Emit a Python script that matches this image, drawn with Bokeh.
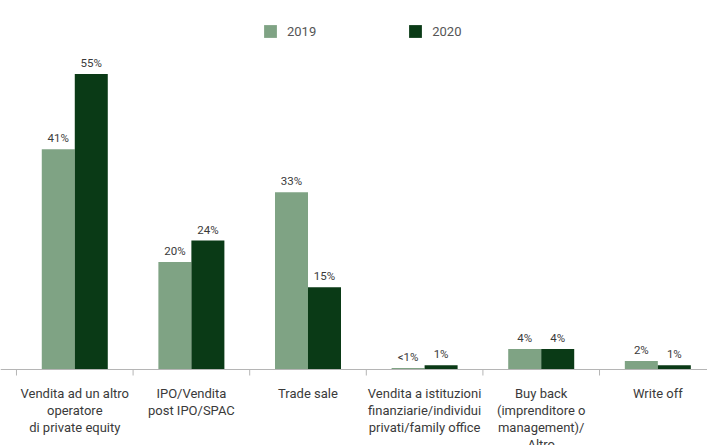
from bokeh.plotting import figure
from bokeh.models import ColumnDataSource, Range1d, Legend, LegendItem, LabelSet, Span
from bokeh.core.properties import value
from bokeh.embed import file_html
from bokeh.resources import INLINE

categories = [
    "Vendita ad un altro\noperatore\ndi private equity",
    "IPO/Vendita\npost IPO/SPAC",
    "Trade sale",
    "Vendita a istituzioni\nfinanziarie/individui\nprivati/family office",
    "Buy back\n(imprenditore o\nmanagement)/\nAltro",
    "Write off",
]
values_2019 = [41, 20, 33, 0.3, 3.8, 1.6]
values_2020 = [55, 24, 15.3, 0.8, 3.8, 0.8]
labels_2019 = ["41%", "20%", "33%", "<1%", "4%", "2%"]
labels_2020 = ["55%", "24%", "15%", "1%", "4%", "1%"]

C2019 = "#7fa384"
C2020 = "#0a3a16"
AXIS = "#b5b5b5"
FONT = "Roboto"

n = len(categories)
centers = [i + 0.5 for i in range(n)]
bounds = list(range(n + 1))
bw = 0.283
px = 5.371            # pixels per percentage point
tick_len = 6 / px     # tick length expressed in data units
line_px = 17          # line spacing of the category labels

src19 = ColumnDataSource(dict(x=[c - bw / 2 for c in centers], top=values_2019, lab=labels_2019))
src20 = ColumnDataSource(dict(x=[c + bw / 2 for c in centers], top=values_2020, lab=labels_2020))

cx, cy, ct = [], [], []
for c, cat in zip(centers, categories):
    for k, line in enumerate(cat.split("\n")):
        cx.append(c)
        cy.append(-k * line_px / px)
        ct.append(line)
srccat = ColumnDataSource(dict(x=cx, y=cy, lab=ct))
srctick = ColumnDataSource(dict(x=bounds, y0=[0] * len(bounds), y1=[-tick_len] * len(bounds)))

p = figure(width=707, height=445, output_backend="svg", toolbar_location=None,
           x_range=Range1d(-0.137, 5.926), y_range=Range1d(-76 / px, 369 / px),
           min_border_left=0, min_border_right=0, min_border_top=0, min_border_bottom=0)
p.outline_line_color = None
p.xgrid.visible = False
p.ygrid.visible = False
p.xaxis.visible = False
p.yaxis.visible = False
p.background_fill_color = "white"
p.border_fill_color = "white"

r19 = p.vbar(x="x", top="top", width=bw, source=src19, color=C2019, line_color=None)
r20 = p.vbar(x="x", top="top", width=bw, source=src20, color=C2020, line_color=None)

# baseline and category separators
p.add_layout(Span(location=0, dimension="width", line_color=AXIS, line_width=1))
p.segment(x0="x", y0="y0", x1="x", y1="y1", source=srctick, line_color=AXIS, line_width=1)

for src in (src19, src20):
    p.add_layout(LabelSet(x="x", y="top", text="lab", source=src, y_offset=4,
                          text_align="center", text_baseline="bottom",
                          text_font=value(FONT), text_font_size="11.5px", text_color="#3a3a3a"))

p.add_layout(LabelSet(x="x", y="y", text="lab", source=srccat, y_offset=-24,
                      text_align="center", text_baseline="middle",
                      text_font=value(FONT), text_font_size="13px", text_color="#3a3a3a"))

legend = Legend(items=[LegendItem(label="2019", renderers=[r19]),
                       LegendItem(label="2020", renderers=[r20])],
                orientation="horizontal", location=(262, 406),
                glyph_width=16, glyph_height=16, label_standoff=9,
                spacing=91, padding=0, margin=0, border_line_color=None,
                background_fill_alpha=0,
                label_text_font=FONT, label_text_font_size="13px", label_text_color="#555555")
p.add_layout(legend)

open("out.html", "w").write(file_html(p, INLINE))
